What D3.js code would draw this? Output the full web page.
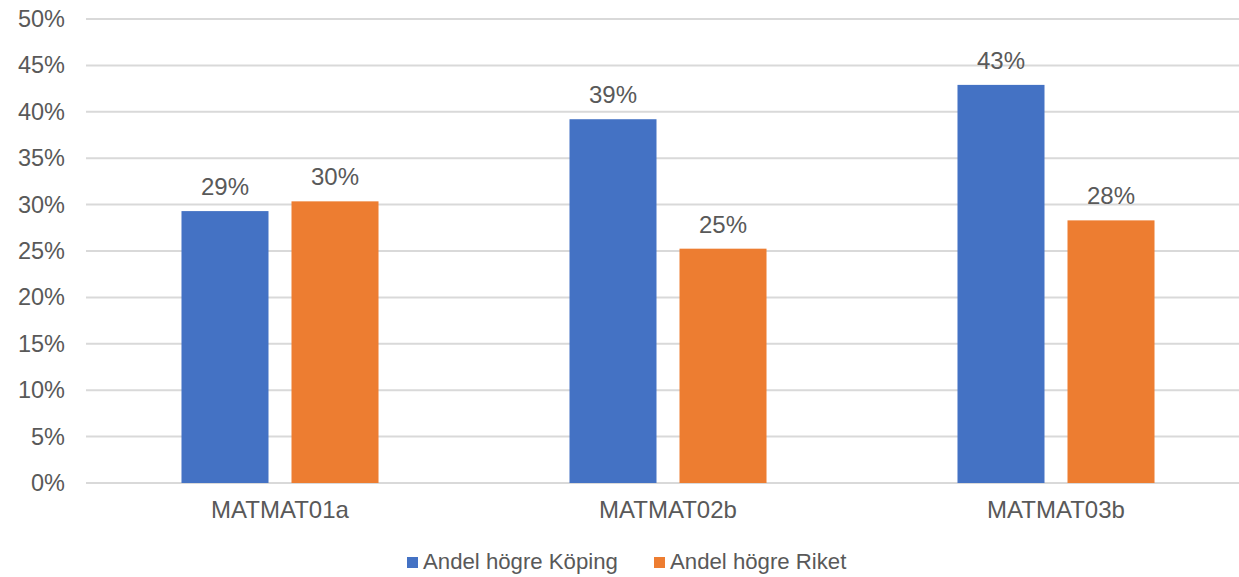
<!DOCTYPE html>
<html>
<head>
<meta charset="utf-8">
<script src="https://cdn.jsdelivr.net/npm/d3@7"></script>
<style>
  html, body { margin: 0; padding: 0; background: #fff; }
  svg { display: block; }
  text { font-family: "Liberation Sans", Arial, sans-serif; fill: #595959; }
</style>
</head>
<body>
<svg id="chart" width="1239" height="577"></svg>
<script>
const categories = ["MATMAT01a", "MATMAT02b", "MATMAT03b"];
const seriesNames = ["Andel högre Köping", "Andel högre Riket"];
const koping = [29.3, 39.2, 42.9];
const riket = [30.35, 25.25, 28.3];
const dataLabels = [["29%", "39%", "43%"], ["30%", "25%", "28%"]];
const yTicks = [0, 5, 10, 15, 20, 25, 30, 35, 40, 45, 50];
const colors = ["#4472C4", "#ED7D31"];

const seriesValues = [koping, riket];
const svg = d3.select("#chart");

const y = d3.scaleLinear().domain([0, 50]).range([483, 19]);
const x0 = d3.scaleBand().domain(categories).range([86, 1250]).paddingInner(0).paddingOuter(0);
const x1 = d3.scaleBand().domain(seriesNames).range([0, x0.bandwidth()])
  .paddingInner(23 / 110).paddingOuter(0.868);

// gridlines
svg.append("g").selectAll("line").data(yTicks).join("line")
  .attr("x1", 86).attr("x2", 1250)
  .attr("y1", d => y(d)).attr("y2", d => y(d))
  .attr("stroke", "#d9d9d9").attr("stroke-width", 2);

// y tick labels
svg.append("g").selectAll("text").data(yTicks).join("text")
  .attr("x", 65).attr("y", d => y(d))
  .attr("text-anchor", "end").attr("dominant-baseline", "central")
  .attr("font-size", 23.5)
  .text(d => d + "%");

// bars
const groups = svg.append("g").selectAll("g").data(categories).join("g")
  .attr("transform", d => `translate(${x0(d)},0)`);

groups.selectAll("rect").data((c, ci) => seriesNames.map((s, si) => ({ s, si, v: seriesValues[si][ci] })))
  .join("rect")
  .attr("x", d => x1(d.s)).attr("width", x1.bandwidth())
  .attr("y", d => y(d.v)).attr("height", d => y(0) - y(d.v))
  .attr("fill", d => colors[d.si]);

groups.selectAll("text.lbl").data((c, ci) => seriesNames.map((s, si) => ({ s, si, v: seriesValues[si][ci], t: dataLabels[si][ci] })))
  .join("text").attr("class", "lbl")
  .attr("x", d => x1(d.s) + x1.bandwidth() / 2)
  .attr("y", d => y(d.v) - 16)
  .attr("text-anchor", "middle")
  .attr("font-size", 24)
  .attr("fill", "#404040")
  .text(d => d.t);

// category labels
svg.append("g").selectAll("text").data(categories).join("text")
  .attr("x", d => x0(d) + x0.bandwidth() / 2).attr("y", 518)
  .attr("text-anchor", "middle").attr("font-size", 24)
  .text(d => d);

// legend
const legendX = [407, 654];
const leg = svg.append("g").selectAll("g").data(seriesNames).join("g")
  .attr("transform", (d, i) => `translate(${legendX[i]},0)`);
leg.append("rect").attr("x", 0).attr("y", 557).attr("width", 11).attr("height", 11)
  .attr("fill", (d, i) => colors[i]);
leg.append("text").attr("x", 16).attr("y", 569).attr("font-size", 22.2).text(d => d);
</script>
</body>
</html>
